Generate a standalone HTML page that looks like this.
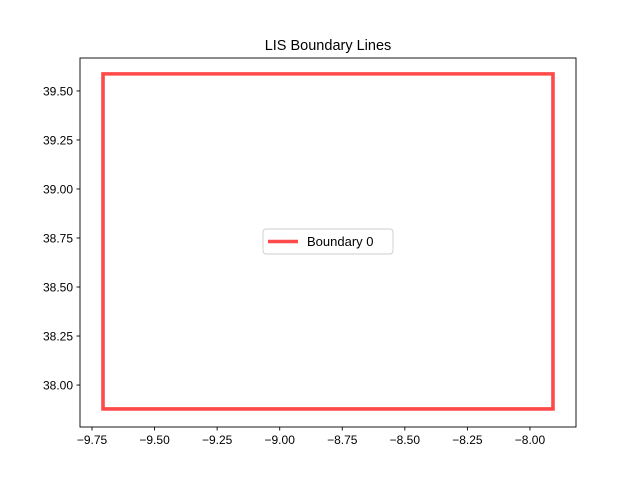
<!DOCTYPE html>
<html><head><meta charset="utf-8"><style>
body{margin:0;background:#fff;}
svg text{font-family:"Liberation Sans","DejaVu Sans",sans-serif;}
</style></head><body>
<svg id="chart" width="640" height="480" viewBox="0 0 640 480" xmlns="http://www.w3.org/2000/svg">
<rect x="0" y="0" width="640" height="480" fill="#fff"/>
<text x="328" y="50" font-size="14.5" text-anchor="middle">LIS Boundary Lines</text>
<g id="xticks"></g><g id="yticks"></g>
<path id="boundary" fill="none" stroke="#ff4a4a" stroke-width="3.6" stroke-linejoin="miter"/>
<rect x="80" y="58" width="496" height="369" fill="none" stroke="#000" stroke-width="0.9"/>
<g>
<rect x="263" y="229" width="130" height="25" rx="3" fill="#fff" stroke="#ccc" stroke-width="0.9"/>
<line x1="268" y1="241.5" x2="298" y2="241.5" stroke="#ff4a4a" stroke-width="3.6"/>
<text x="307" y="246" font-size="13">Boundary 0</text>
</g>
</svg>
<script>
const boundaryX=[-9.706,-7.908,-7.908,-9.706,-9.706];
const boundaryY=[37.878,37.878,39.587,39.587,37.878];
const xTicks=[-9.75,-9.5,-9.25,-9.0,-8.75,-8.5,-8.25,-8.0];
const xTickLabels=["−9.75","−9.50","−9.25","−9.00","−8.75","−8.50","−8.25","−8.00"];
const yTicks=[38.0,38.25,38.5,38.75,39.0,39.25,39.5];
const yTickLabels=["38.00","38.25","38.50","38.75","39.00","39.25","39.50"];
const L=80,R=576,T=58,B=427;
const xmin=-9.798,xmax=-7.816,ymin=37.786,ymax=39.668;
const sx=v=>L+(v-xmin)/(xmax-xmin)*(R-L);
const sy=v=>B-(v-ymin)/(ymax-ymin)*(B-T);
const NS="http://www.w3.org/2000/svg";
let d=boundaryX.map((x,i)=>(i?"L":"M")+sx(x).toFixed(2)+","+sy(boundaryY[i]).toFixed(2)).join("")+"Z";
document.getElementById("boundary").setAttribute("d",d);
const xg=document.getElementById("xticks");
xTicks.forEach((v,i)=>{const x=sx(v);
const l=document.createElementNS(NS,"line");


l.setAttribute("x1",x);l.setAttribute("x2",x);l.setAttribute("y1",B);l.setAttribute("y2",B+3.5);l.setAttribute("stroke","#000");l.setAttribute("stroke-width","0.9");xg.appendChild(l);
const t=document.createElementNS(NS,"text");


t.setAttribute("x",x);t.setAttribute("y",B+17);t.setAttribute("font-size","12");t.setAttribute("text-anchor","middle");t.textContent=xTickLabels[i];xg.appendChild(t);});
const yg=document.getElementById("yticks");
yTicks.forEach((v,i)=>{const y=sy(v);
const l=document.createElementNS(NS,"line");


l.setAttribute("x1",L-3.5);l.setAttribute("x2",L);l.setAttribute("y1",y);l.setAttribute("y2",y);l.setAttribute("stroke","#000");l.setAttribute("stroke-width","0.9");yg.appendChild(l);
const t=document.createElementNS(NS,"text");


t.setAttribute("x",L-7);t.setAttribute("y",y+4.5);t.setAttribute("font-size","12");t.setAttribute("text-anchor","end");t.textContent=yTickLabels[i];yg.appendChild(t);});
</script>
</body></html>
